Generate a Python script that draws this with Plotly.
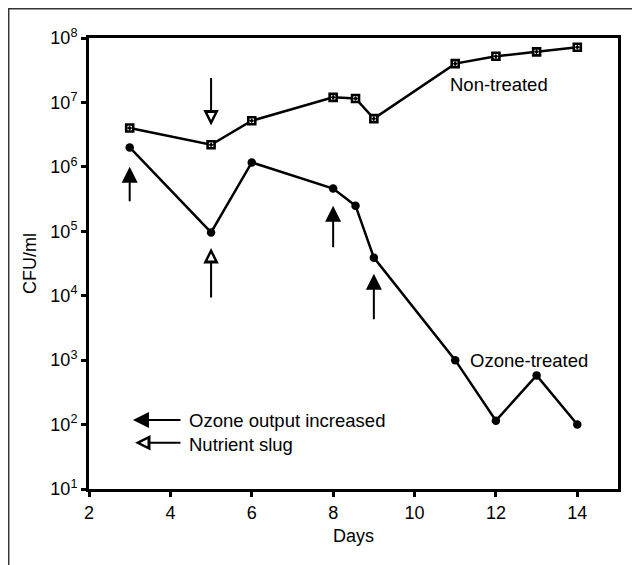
import numpy as np
import plotly.graph_objects as go

# ---- data ----
days = [3, 5, 6, 8, 8.55, 9, 11, 12, 13, 14]
non_treated = [4.0e6, 2.2e6, 5.2e6, 1.2e7, 1.15e7, 5.6e6, 4.0e7, 5.2e7, 6.1e7, 7.2e7]
ozone_treated = [2.0e6, 9.6e4, 1.17e6, 4.6e5, 2.5e5, 3.9e4, 1.0e3, 115, 580, 100]

ozone_arrow_days = [3, 8, 9]
ozone_arrow_tips = [1.0e6, 2.5e5, 2.2e4]
nutrient_arrow_days = [5, 5]
nutrient_arrow_tips = [4.4e6, 5.5e4]

y_tick_exponents = [1, 2, 3, 4, 5, 6, 7, 8]
x_tick_vals = [2, 4, 6, 8, 10, 12, 14]

FONT = "Liberation Sans, Arial, Helvetica, sans-serif"
FS = 18
LFS = 18.5

fig = go.Figure()
fig.add_trace(go.Scatter(
    x=days, y=non_treated, mode="lines+markers",
    line=dict(color="black", width=2.5),
    marker=dict(symbol="square-dot", size=7, color="white",
                line=dict(color="black", width=2.6)),
    showlegend=False))
fig.add_trace(go.Scatter(
    x=days, y=ozone_treated, mode="lines+markers",
    line=dict(color="black", width=2.5),
    marker=dict(symbol="circle", size=8.5, color="black"),
    showlegend=False))

annotations = []


def filled_arrow(x, y, ax, ay):
    annotations.append(dict(x=x, y=y, xref="x", yref="y", ax=ax, ay=ay,
                            axref="pixel", ayref="pixel", text="", showarrow=True,
                            arrowhead=2, arrowsize=1.6, arrowwidth=2,
                            arrowcolor="black"))


def open_arrow(x, y, ax, ay):
    annotations.append(dict(x=x, y=y, xref="x", yref="y", ax=ax, ay=ay,
                            axref="pixel", ayref="pixel", text="", showarrow=True,
                            arrowhead=2, arrowsize=1.55, arrowwidth=2,
                            arrowcolor="black"))
    # white inner triangle to make the head hollow
    n = np.hypot(ax, ay)
    annotations.append(dict(x=x, y=y, xref="x", yref="y",
                            ax=ax / n * 13, ay=ay / n * 13,
                            axref="pixel", ayref="pixel", text="", showarrow=True,
                            arrowhead=2, arrowsize=1.4, arrowwidth=1,
                            standoff=5.5, arrowcolor="white"))


ozone_lengths = [36, 43, 47]
for d, t, L in zip(ozone_arrow_days, ozone_arrow_tips, ozone_lengths):
    filled_arrow(d, np.log10(t), 0, L)

open_arrow(nutrient_arrow_days[0], np.log10(nutrient_arrow_tips[0]), 0, -49)
open_arrow(nutrient_arrow_days[1], np.log10(nutrient_arrow_tips[1]), 0, 51)

# key arrows
filled_arrow(3.08, 2.07, 49, 0)
open_arrow(3.13, 1.716, 47, 0)

labels = [
    ("Non-treated", 10.83, 7.28),
    ("Ozone-treated", 11.32, 2.99),
    ("Ozone output increased", 4.40, 2.07),
    ("Nutrient slug", 4.40, 1.69),
]
for txt, x, y in labels:
    annotations.append(dict(x=x, y=y, xref="x", yref="y", text=txt,
                            showarrow=False, xanchor="left", yanchor="middle",
                            font=dict(family=FONT, size=LFS, color="black")))

shapes = [
    # outer frame (left and top edges)
    dict(type="line", xref="paper", yref="paper", xsizemode="pixel", ysizemode="pixel",
         xanchor=0, yanchor=1, x0=-80.3, x1=-80.3, y0=29.3, y1=-540,
         line=dict(color="#333333", width=1.5)),
    dict(type="line", xref="paper", yref="paper", xsizemode="pixel", ysizemode="pixel",
         xanchor=0, yanchor=1, x0=-81, x1=560, y0=29.3, y1=29.3,
         line=dict(color="#333333", width=1.5)),
]

fig.update_layout(
    width=632, height=557,
    margin=dict(l=81, r=22, t=30, b=76),
    paper_bgcolor="white", plot_bgcolor="white",
    font=dict(family=FONT, size=FS, color="black"),
    annotations=annotations,
    shapes=shapes,
    xaxis=dict(range=[2, 15], tickvals=x_tick_vals, ticks="outside", ticklen=5,
               tickwidth=2.5, tickcolor="black", linewidth=3, linecolor="black",
               mirror=True, showgrid=False, zeroline=False,
               title=dict(text="Days", standoff=8, font=dict(size=FS)),
               tickfont=dict(size=FS)),
    yaxis=dict(type="log", range=[1, 8],
               tickvals=[10 ** e for e in y_tick_exponents],
               ticktext=[f"10<sup>{e}</sup>" for e in y_tick_exponents],
               ticks="outside", ticklen=5, tickwidth=2.5, tickcolor="black",
               linewidth=3, linecolor="black", mirror=True, showgrid=False,
               zeroline=False,
               title=dict(text="CFU/ml", standoff=10, font=dict(size=FS)),
               tickfont=dict(size=FS)),
)

fig.write_html("out.html")
